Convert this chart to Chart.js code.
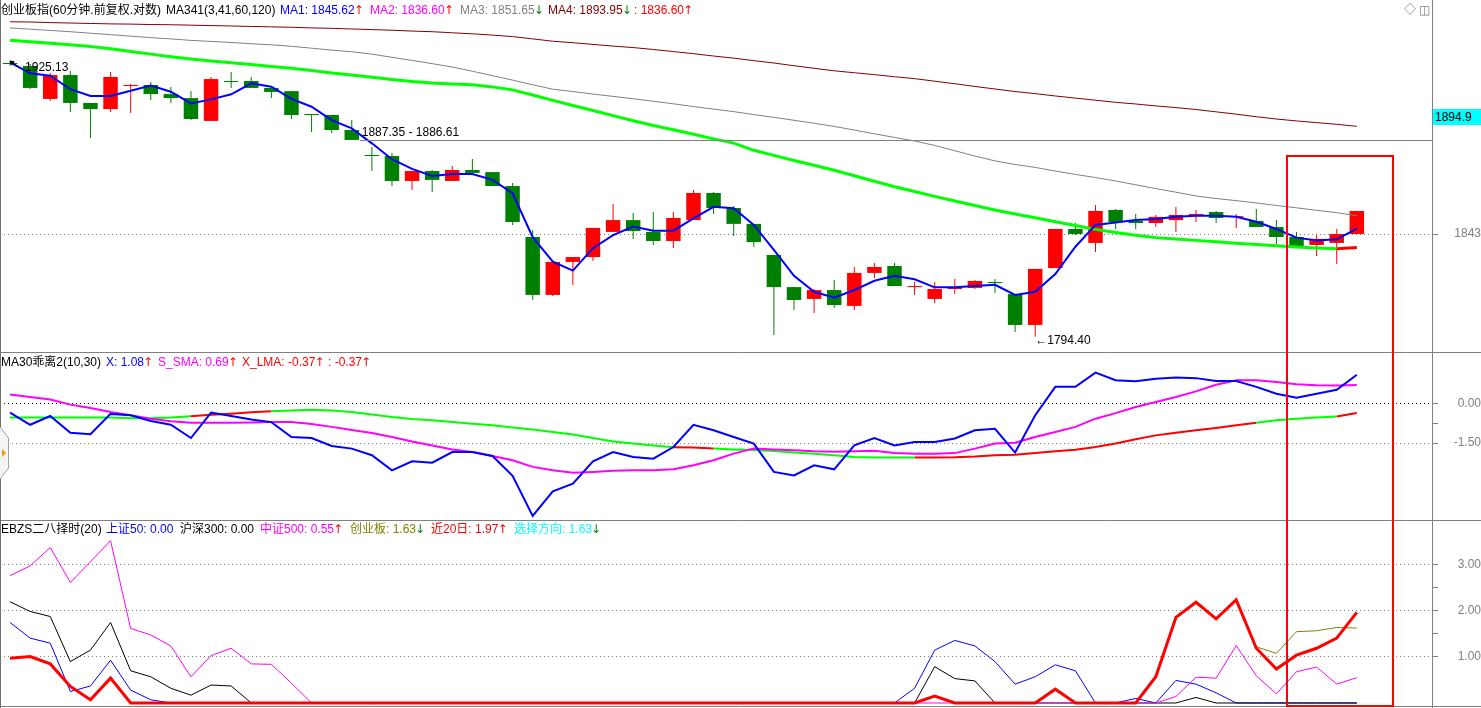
<!DOCTYPE html>
<html>
<head>
<meta charset="utf-8">
<script src="https://cdn.jsdelivr.net/npm/chart.js@4.4.1/dist/chart.umd.min.js"></script>
<style>
  body { margin: 0; background: #fff; }
  #wrap { position: relative; width: 1481px; height: 708px; overflow: hidden;
          font-family: "Liberation Sans", "Noto Sans CJK SC", sans-serif; font-size: 12px; }
  canvas { position: absolute; left: 0; }
  .t { position: absolute; white-space: pre; line-height: 14px; }
  .a { font-family: "DejaVu Sans", sans-serif; font-weight: normal; margin-left: -1px; }
  .up { color: #ff0000; } .dn { color: #008000; }
  #box { position: absolute; left: 1286px; top: 155px; width: 108px; height: 552px;
         border: 2px solid #ff0000; box-sizing: border-box; }
  #cur { position: absolute; left: 1433px; top: 109px; width: 48px; height: 16px; line-height: 16px;
         background: #00ffff; color: #000; padding-left: 2px; box-sizing: border-box; }
</style>
</head>
<body>
<div id="wrap">
  <canvas id="kline" width="1481" height="352" style="top:0"></canvas>
  <canvas id="bias" width="1481" height="168" style="top:352px"></canvas>
  <canvas id="ebzs" width="1481" height="188" style="top:520px"></canvas>

  <!-- 主图标题 -->
  <span class="t" style="left:1px;top:3px;color:#000">创业板指(60分钟.前复权.对数)</span>
  <span class="t" style="left:166px;top:3px;color:#000">MA341(3,41,60,120)</span>
  <span class="t" style="left:280px;top:3px;color:#0000ff">MA1: 1845.62<b class="a up">↑</b></span>
  <span class="t" style="left:370px;top:3px;color:#ff00ff">MA2: 1836.60<b class="a up">↑</b></span>
  <span class="t" style="left:460px;top:3px;color:#808080">MA3: 1851.65<b class="a dn">↓</b></span>
  <span class="t" style="left:548px;top:3px;color:#800000">MA4: 1893.95<b class="a dn">↓</b></span>
  <span class="t" style="left:634px;top:3px;color:#ff0000">: 1836.60<b class="a up">↑</b></span>
  <span class="t" style="left:1404px;top:3px;color:#808080">◇</span>
  <span class="t" style="left:1419px;top:3px;color:#808080">◫</span>
  <div id="cur">1894.9</div>

  <!-- 副图1 -->
  <span class="t" style="left:1px;top:355px;color:#000">MA30乖离2(10,30)</span>
  <span class="t" style="left:106px;top:355px;color:#0000ff">X: 1.08<b class="a up">↑</b></span>
  <span class="t" style="left:158px;top:355px;color:#ff00ff">S_SMA: 0.69<b class="a up">↑</b></span>
  <span class="t" style="left:242px;top:355px;color:#ff0000">X_LMA: -0.37<b class="a up">↑</b></span>
  <span class="t" style="left:328px;top:355px;color:#ff0000">: -0.37<b class="a up">↑</b></span>

  <!-- 副图2 -->
  <span class="t" style="left:1px;top:522px;color:#000">EBZS二八择时(20)</span>
  <span class="t" style="left:106px;top:522px;color:#0000ff">上证50: 0.00</span>
  <span class="t" style="left:180px;top:522px;color:#000">沪深300: 0.00</span>
  <span class="t" style="left:260px;top:522px;color:#ff00ff">中证500: 0.55<b class="a up">↑</b></span>
  <span class="t" style="left:350px;top:522px;color:#808000">创业板: 1.63<b class="a dn">↓</b></span>
  <span class="t" style="left:431px;top:522px;color:#ff0000">近20日: 1.97<b class="a up">↑</b></span>
  <span class="t" style="left:514px;top:522px;color:#00ffff">选择方向: 1.63<b class="a dn">↓</b></span>

  <div id="box"></div>
</div>

<script>
// ===== 数据 (60分钟K线, 68根) =====
const opens = [1923.9,1922.5,1906.9,1918.2,1905.0,1902.1,1913.0,1913.5,1909.2,1907.3,
  1896.5,1915.4,1915.4,1912.1,1910.6,1899.8,1899.3,1892.2,1880.4,1879.9,
  1868.1,1872.8,1868.1,1873.3,1872.3,1865.7,1841.6,1814.2,1829.8,1832.1,
  1844.0,1849.6,1844.0,1839.7,1849.6,1862.4,1855.3,1847.8,1833.1,1817.9,
  1812.3,1816.5,1809.0,1824.6,1827.9,1817.9,1812.3,1817.0,1817.5,1820.3,
  1814.6,1800.0,1826.9,1845.4,1838.8,1854.4,1849.2,1848.2,1849.6,1851.5,
  1853.4,1851.1,1849.2,1846.3,1841.6,1837.8,1838.8,1843.0];
const highs = [1925.13,1923.4,1919.2,1920.1,1905.0,1919.6,1914.0,1914.9,1912.5,1910.6,
  1917.3,1919.6,1917.3,1912.1,1910.6,1899.8,1899.3,1896.9,1884.2,1881.3,
  1872.8,1873.3,1875.2,1878.5,1872.3,1867.1,1844.9,1829.8,1832.1,1845.9,
  1857.2,1853.0,1853.4,1853.4,1863.8,1862.9,1856.3,1847.8,1833.1,1817.9,
  1817.0,1821.3,1827.4,1829.3,1829.3,1820.3,1820.3,1821.7,1821.3,1821.7,
  1814.6,1826.5,1845.4,1848.2,1856.7,1854.8,1852.5,1852.0,1855.8,1854.4,
  1853.9,1852.5,1854.8,1849.6,1844.0,1842.5,1845.4,1853.9];
const lows = [1922.5,1911.6,1905.9,1900.7,1888.4,1900.7,1900.2,1906.4,1905.0,1896.9,
  1896.5,1912.1,1912.1,1907.3,1897.4,1891.3,1890.8,1887.5,1872.8,1865.7,
  1863.8,1862.9,1868.1,1871.9,1865.7,1847.3,1811.8,1813.7,1818.9,1830.3,
  1844.0,1840.7,1837.8,1836.4,1849.6,1852.5,1842.1,1836.9,1795.2,1807.1,
  1805.7,1808.0,1807.1,1822.2,1818.4,1814.2,1810.4,1814.6,1817.0,1815.1,
  1796.7,1794.40,1826.9,1842.5,1834.5,1845.4,1845.4,1846.3,1844.0,1848.7,
  1848.2,1845.9,1846.3,1838.3,1836.9,1832.6,1828.8,1843.0];
const closes = [1923.4,1912.1,1918.2,1905.0,1902.1,1917.3,1913.5,1909.2,1907.3,1897.4,
  1916.3,1914.9,1912.1,1910.2,1899.3,1899.3,1892.2,1887.5,1879.9,1868.1,
  1872.8,1868.6,1873.3,1871.9,1865.7,1848.7,1814.2,1829.8,1832.1,1845.9,
  1849.6,1844.4,1839.7,1850.6,1862.4,1855.3,1847.8,1839.2,1817.9,1811.8,
  1816.5,1809.4,1824.6,1827.4,1818.4,1818.4,1817.0,1817.5,1820.8,1819.8,
  1800.0,1826.5,1845.4,1843.0,1853.9,1848.7,1848.2,1851.1,1852.0,1852.5,
  1850.6,1851.5,1846.3,1841.6,1837.3,1840.7,1843.0,1853.9];

const ma1 = [1924.2,1919.0,1917.9,1911.5,1908.3,1908.3,1910.8,1913.2,1910.3,1904.8,
  1906.7,1909.1,1914.3,1912.7,1906.9,1903.2,1896.9,1893.0,1885.9,1878.4,
  1873.8,1870.5,1871.4,1871.4,1868.6,1862.3,1841.5,1829.9,1825.7,1836.3,
  1842.5,1846.5,1844.6,1844.6,1850.4,1855.9,1855.2,1847.3,1835.5,1823.2,
  1815.7,1812.9,1816.5,1820.9,1823.3,1821.6,1817.8,1817.8,1818.4,1819.0,
  1814.2,1815.7,1824.1,1837.0,1847.3,1848.5,1849.6,1850.1,1851.2,1851.7,
  1851.7,1851.2,1848.8,1845.4,1841.3,1840.0,1840.5,1845.6];
const ma2 = [1934.7,1934.0,1933.2,1932.5,1931.7,1930.6,1929.3,1928.1,1926.9,1925.8,
  1924.9,1924.0,1923.2,1922.3,1921.4,1920.3,1919.2,1918.2,1917.2,1916.1,
  1915.1,1914.4,1914.0,1913.6,1912.6,1911.2,1908.8,1906.2,1903.8,1901.4,
  1899.0,1896.6,1894.3,1892.3,1890.2,1888.0,1886.0,1882.6,1880.2,1877.8,
  1875.5,1873.2,1870.6,1868.0,1865.4,1863.1,1860.8,1858.6,1856.5,1854.4,
  1852.5,1850.7,1848.8,1847.0,1845.2,1843.7,1842.4,1841.3,1840.6,1840.0,
  1839.3,1838.6,1838.0,1837.4,1836.9,1836.4,1836.0,1836.6];
const ma3 = [1940.5,1939.9,1939.3,1938.7,1938.0,1937.3,1936.6,1935.9,1935.3,1934.6,
  1934.1,1933.6,1933.0,1932.5,1931.8,1930.9,1930.0,1929.2,1928.1,1926.6,
  1925.1,1923.6,1922.0,1920.0,1917.9,1915.8,1913.6,1911.5,1910.4,1909.2,
  1908.1,1907.0,1905.8,1904.6,1903.3,1902.1,1900.9,1899.5,1898.2,1896.8,
  1895.4,1893.9,1892.2,1890.4,1888.7,1887.0,1884.9,1882.4,1879.9,1877.6,
  1875.9,1874.5,1872.8,1871.2,1869.7,1868.1,1866.3,1864.5,1862.8,1861.0,
  1859.8,1858.8,1857.7,1856.5,1855.4,1854.2,1853.1,1851.7];
const ma4 = [1943.4,1943.3,1943.0,1942.8,1942.6,1942.4,1942.3,1942.1,1942.0,1941.8,
  1941.6,1941.4,1941.2,1941.0,1940.8,1940.5,1940.3,1940.0,1939.7,1939.4,
  1939.0,1938.7,1938.2,1937.7,1937.1,1936.4,1935.3,1934.2,1933.5,1932.7,
  1931.9,1931.2,1930.3,1929.3,1928.3,1927.2,1926.2,1925.0,1923.9,1922.6,
  1921.4,1920.2,1919.3,1918.4,1917.4,1916.5,1915.3,1914.1,1912.8,1911.6,
  1910.4,1909.4,1908.3,1907.3,1906.3,1905.3,1904.5,1903.6,1902.8,1901.9,
  1900.8,1899.7,1898.5,1897.4,1896.5,1895.7,1894.9,1893.95];
const tailStart = 66;               // ":" 线 (红) 只在最后两根
const levelPrices = [1887.35, 1886.61];
const levelFrom = 17;

// MA30乖离2
const biasX = [-0.35,-0.81,-0.48,-1.11,-1.17,-0.40,-0.45,-0.67,-0.81,-1.31,
  -0.35,-0.48,-0.61,-0.71,-1.27,-1.31,-1.61,-1.71,-1.96,-2.53,
  -2.19,-2.24,-1.84,-1.84,-1.99,-2.74,-4.25,-3.32,-3.03,-2.19,
  -1.84,-2.03,-2.09,-1.65,-0.81,-1.02,-1.27,-1.52,-2.59,-2.72,
  -2.34,-2.49,-1.59,-1.31,-1.59,-1.46,-1.46,-1.33,-1.02,-0.96,
  -1.86,-0.45,0.62,0.62,1.16,0.87,0.83,0.93,0.97,0.95,
  0.84,0.84,0.62,0.36,0.21,0.36,0.51,1.08];
const biasSma = [0.33,0.24,0.14,-0.05,-0.18,-0.33,-0.45,-0.58,-0.68,-0.73,
  -0.73,-0.73,-0.72,-0.71,-0.71,-0.78,-0.89,-1.01,-1.12,-1.27,
  -1.44,-1.59,-1.74,-1.84,-1.99,-2.15,-2.40,-2.53,-2.62,-2.59,
  -2.55,-2.53,-2.53,-2.49,-2.34,-2.15,-1.90,-1.71,-1.74,-1.77,
  -1.81,-1.83,-1.81,-1.79,-1.88,-1.90,-1.90,-1.88,-1.71,-1.52,
  -1.49,-1.27,-1.08,-0.89,-0.58,-0.37,-0.14,0.05,0.24,0.45,
  0.70,0.87,0.87,0.80,0.72,0.68,0.67,0.69];
const biasLma = [-0.54,-0.54,-0.54,-0.54,-0.54,-0.54,-0.56,-0.56,-0.54,-0.49,
  -0.43,-0.39,-0.34,-0.30,-0.27,-0.24,-0.27,-0.33,-0.42,-0.52,
  -0.59,-0.64,-0.71,-0.77,-0.83,-0.91,-0.99,-1.08,-1.18,-1.31,
  -1.44,-1.52,-1.59,-1.66,-1.67,-1.71,-1.74,-1.76,-1.80,-1.86,
  -1.90,-1.96,-2.03,-2.05,-2.05,-2.05,-2.05,-2.04,-2.01,-1.96,
  -1.94,-1.88,-1.81,-1.75,-1.65,-1.52,-1.36,-1.21,-1.11,-1.02,
  -0.93,-0.83,-0.73,-0.64,-0.58,-0.54,-0.50,-0.37];
const lmaRedRuns = [[9, 13], [33, 35], [45, 62], [66, 67]];

// EBZS二八择时
const sz50 = [1.75,1.41,1.30,0.25,0.37,0.93,0.28,0.07,0,0,
  0,0,0,0,0,0,0,0,0,0, 0,0,0,0,0,0,0,0,0,0, 0,0,0,0,0,0,0,0,0,0,
  0,0,0,0,0,0.32,1.15,1.36,1.24,0.90,
  0.41,0.57,0.83,0.70,0,0,0.10,0,0.49,0.41,
  0.22,0,0,0,0,0,0,0];
const hs300 = [2.20,1.99,1.88,0.90,1.15,1.75,0.70,0.57,0.32,0.17,
  0.39,0.37,0,0,0,0,0,0,0,0, 0,0,0,0,0,0,0,0,0,0, 0,0,0,0,0,0,0,0,0,0,
  0,0,0,0,0,0,0.79,0.53,0.48,0,
  0,0,0,0,0,0,0,0,0,0.12,
  0,0,0,0,0,0,0,0];
const zz500 = [2.77,2.98,3.38,2.62,3.07,3.53,1.62,1.48,1.24,0.57,
  1.03,1.19,0.85,0.84,0.43,0,0,0,0,0, 0,0,0,0,0,0,0,0,0,0, 0,0,0,0,0,0,0,0,0,0,
  0,0,0,0,0,0,0,0,0,0,
  0,0,0,0,0,0,0,0,0.14,0.56,
  0.54,1.25,0.59,0.20,0.68,0.78,0.41,0.55];
const cyb = [0.97,1.01,0.85,0.36,0.07,0.54,0,0,0,0,
  0,0,0,0,0,0,0,0,0,0, 0,0,0,0,0,0,0,0,0,0, 0,0,0,0,0,0,0,0,0,0,
  0,0,0,0,0,0,0.15,0,0,0,
  0,0,0.30,0,0,0,0,0.57,1.86,2.19,
  1.83,2.24,1.22,1.08,1.55,1.57,1.64,1.63];
const near20 = [0.97,1.01,0.85,0.36,0.07,0.54,0,0,0,0,
  0,0,0,0,0,0,0,0,0,0, 0,0,0,0,0,0,0,0,0,0, 0,0,0,0,0,0,0,0,0,0,
  0,0,0,0,0,0,0.15,0,0,0,
  0,0,0.30,0,0,0,0,0.57,1.86,2.19,
  1.83,2.24,1.19,0.74,1.04,1.19,1.41,1.97];

const barIndex = opens.map((_, i) => i);
const mainTicks = [1843];
const biasTicks = [0, -1.5], biasMinor = [-0.75];
const ebzsTicks = [3, 2, 1], ebzsMinor = [2.5, 1.5];

Chart.defaults.font.family = '"Liberation Sans", "Noto Sans CJK SC", sans-serif';
Chart.defaults.font.size = 12;
Chart.defaults.animation = false;

const RED = '#ff0000', GREEN = '#008000', AXIS = '#808080';
const candleColor = ctx => closes[ctx.dataIndex] >= opens[ctx.dataIndex] ? RED : GREEN;
const inRuns = (runs, i) => runs.some(([a, b]) => i >= a && i <= b);

function xAxis() {
    return { type: 'linear', display: false, min: -0.5, max: 70.74, offset: false };
}

function yAxis(min, max, major, minor, pad, fmt, zeroColor) {
    return {
        position: 'right', min, max,
        // 固定轴宽, 去掉标签造成的上下留白, 让绘图区占满整个面板
        afterFit: s => { s.width = 49; s.paddingTop = 0; s.paddingBottom = 0; },
        afterBuildTicks: s => { s.ticks = major.concat(minor).map(v => ({ value: v })); },
        ticks: { autoSkip: false, crossAlign: 'far', padding: pad, color: AXIS,
                 callback: v => major.includes(v) ? fmt(v) : '' },
        grid: {
            color: c => minor.includes(c.tick.value) ? 'rgba(0,0,0,0)' : (c.tick.value === 0 && zeroColor ? zeroColor : AXIS),
            tickColor: AXIS, tickLength: 6, lineWidth: 1
        },
        border: { display: true, color: AXIS, width: 1, dash: [1, 3] }
    };
}

const baseOpts = {
    responsive: false, maintainAspectRatio: false, events: [],
    layout: { padding: 0 },
    plugins: { legend: { display: false }, tooltip: { enabled: false } }
};

function line(data, color, width, order, segColor) {
    const ds = { type: 'line', data, borderColor: color, borderWidth: width, pointRadius: 0,
                 tension: 0, fill: false, order };
    if (segColor) ds.segment = { borderColor: segColor };
    return ds;
}

function hline(ctx, x1, x2, y, color) {
    ctx.strokeStyle = color; ctx.lineWidth = 1;
    ctx.beginPath(); ctx.moveTo(x1, y); ctx.lineTo(x2, y); ctx.stroke();
}

// 主图上的文字标注
const mainMarks = {
    id: 'mainMarks',
    afterDatasetsDraw(chart) {
        const { ctx, chartArea, scales: { x, y } } = chart;
        ctx.save();
        ctx.font = '12px "Liberation Sans", "DejaVu Sans", sans-serif';
        ctx.textBaseline = 'middle';
        ctx.fillStyle = '#000';
        // 水平线 1887.35
        const ly = Math.round(y.getPixelForValue(levelPrices[0])) + 0.5;
        const lx = x.getPixelForValue(levelFrom) + 8;
        hline(ctx, lx, chartArea.right, ly, AXIS);
        ctx.fillText(levelPrices[0].toFixed(2) + ' - ' + levelPrices[1].toFixed(2), lx + 2, ly - 8);
        // 最高
        const hi = highs.indexOf(Math.max(...highs));
        const hx = x.getPixelForValue(hi), hy = y.getPixelForValue(highs[hi]);
        ctx.strokeStyle = '#000'; ctx.lineWidth = 1;
        ctx.beginPath(); ctx.moveTo(hx + 1, hy + 1); ctx.lineTo(hx + 9, hy + 7); ctx.stroke();
        ctx.beginPath(); ctx.moveTo(hx, hy); ctx.lineTo(hx + 5, hy + 1); ctx.lineTo(hx + 1, hy + 5); ctx.fill();
        ctx.fillText(highs[hi].toFixed(2), hx + 15, hy + 7);
        // 最低
        const lo = lows.indexOf(Math.min(...lows));
        const bx = x.getPixelForValue(lo), by = y.getPixelForValue(lows[lo]) + 4;
        ctx.fillText('←' + lows[lo].toFixed(2), bx, by);
        // 左边框
        ctx.strokeStyle = '#707070';
        ctx.beginPath(); ctx.moveTo(0.5, 0); ctx.lineTo(0.5, chart.height); ctx.stroke();
        ctx.restore();
    }
};

const frame = (withWidget, withBottom) => ({
    id: 'frame',
    afterDraw(chart) {
        const { ctx, width, height } = chart;
        ctx.save();
        hline(ctx, 0, width, 0.5, AXIS);
        if (withBottom) hline(ctx, 0, width, height - 1.5, AXIS);
        ctx.strokeStyle = '#707070';
        ctx.beginPath(); ctx.moveTo(0.5, 0); ctx.lineTo(0.5, height); ctx.stroke();
        if (withWidget) {
            ctx.fillStyle = '#f4f4f4'; ctx.strokeStyle = '#a0a0a0';
            ctx.beginPath(); ctx.moveTo(0, 75); ctx.lineTo(8.5, 86); ctx.lineTo(8.5, 116); ctx.lineTo(0, 127);
            ctx.fill(); ctx.stroke();
            ctx.fillStyle = '#e8a000';
            ctx.beginPath(); ctx.moveTo(2, 97); ctx.lineTo(6, 101); ctx.lineTo(2, 105); ctx.fill();
        }
        ctx.restore();
    }
});

// ===== 主图: K线 + 均线 =====
new Chart(document.getElementById('kline'), {
    type: 'bar',
    data: {
        labels: barIndex,
        datasets: [
            line(ma1, '#0000ff', 2, 1),
            line(ma4, '#800000', 1, 2),
            line(ma3, '#808080', 1, 3),
            line(ma2, '#00ff00', 3, 4, c => c.p0DataIndex >= tailStart ? RED : undefined),
            { type: 'bar', data: opens.map((o, i) => [o, closes[i]]), backgroundColor: candleColor,
              grouped: false, maxBarThickness: 15, borderWidth: 0, order: 5 },
            { type: 'bar', data: lows.map((l, i) => [l, highs[i]]), backgroundColor: candleColor,
              grouped: false, maxBarThickness: 1, borderWidth: 0, order: 6 }
        ]
    },
    options: { ...baseOpts, scales: { x: xAxis(), y: yAxis(1787.2, 1953.7, mainTicks, [], 15, v => String(v)) } },
    plugins: [mainMarks]
});

// ===== 副图1: MA30乖离2 =====
new Chart(document.getElementById('bias'), {
    type: 'line',
    data: {
        labels: barIndex,
        datasets: [
            line(biasX, '#0000ff', 2, 1),
            line(biasSma, '#ff00ff', 2, 2),
            line(biasLma, '#00ff00', 2, 3,
                 c => inRuns(lmaRedRuns, c.p0DataIndex) && inRuns(lmaRedRuns, c.p1DataIndex) ? RED : undefined)
        ]
    },
    options: { ...baseOpts, scales: { x: xAxis(), y: yAxis(-4.404, 1.936, biasTicks, biasMinor, 14.5, v => v.toFixed(2), '#000') } },
    plugins: [frame(true, false)]
});

// ===== 副图2: EBZS二八择时 =====
new Chart(document.getElementById('ebzs'), {
    type: 'line',
    data: {
        labels: barIndex,
        datasets: [
            line(near20, RED, 3, 0),
            line(cyb, '#808000', 1, 1),
            line(zz500, '#ff00ff', 1, 2),
            line(hs300, '#000000', 1, 3),
            line(sz50, '#0000ff', 1, 4)
        ]
    },
    options: { ...baseOpts, scales: { x: xAxis(), y: yAxis(-0.109, 3.978, ebzsTicks, ebzsMinor, 18.5, v => v.toFixed(2)) } },
    plugins: [frame(false, true)]
});
</script>
</body>
</html>
